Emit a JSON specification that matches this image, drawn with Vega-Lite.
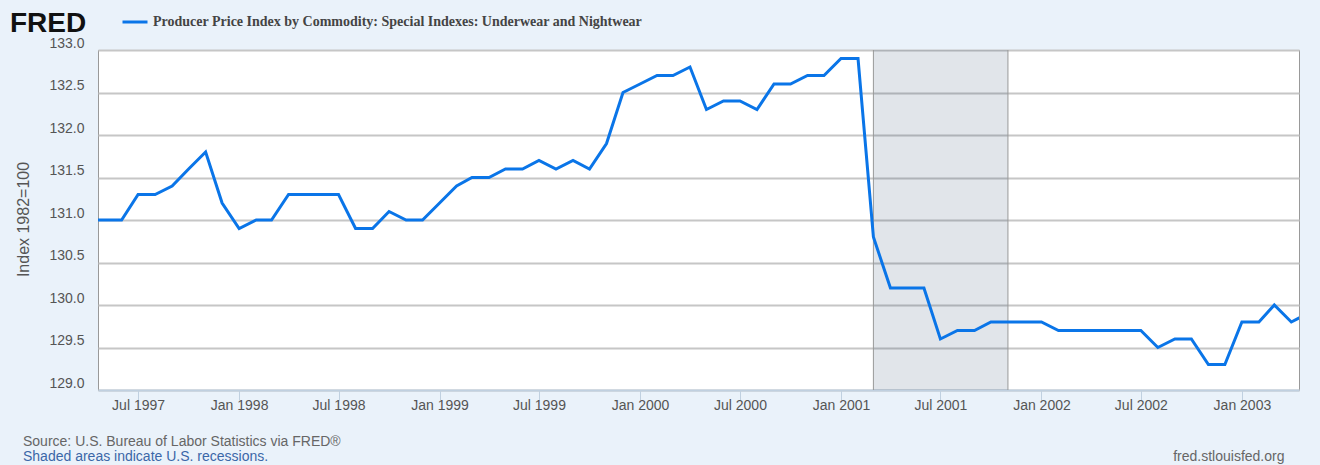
{"$schema":"https://vega.github.io/schema/vega-lite/v6.json","width":1201,"height":340,"autosize":{"type":"none"},"padding":{"left":98,"top":50,"right":21,"bottom":75},"background":"#eaf2fa","view":{"fill":"#ffffff","stroke":"#999999","strokeWidth":1},"title":{"text":"Source: U.S. Bureau of Labor Statistics via FRED®","subtitle":"Shaded areas indicate U.S. recessions.","orient":"bottom","anchor":"start","frame":"group","dx":-75,"offset":-28,"font":"Liberation Sans","fontSize":14,"fontWeight":"normal","color":"#666666","subtitleFont":"Liberation Sans","subtitleFontSize":14,"subtitleColor":"#3b67a8","subtitlePadding":1},"datasets":{"recession":[{"start":"2001-03-01","end":"2001-11-01"}],"series":[{"date":"1997-04-01","value":131.0},{"date":"1997-05-01","value":131.0},{"date":"1997-06-01","value":131.0},{"date":"1997-07-01","value":131.3},{"date":"1997-08-01","value":131.3},{"date":"1997-09-01","value":131.4},{"date":"1997-10-01","value":131.6},{"date":"1997-11-01","value":131.8},{"date":"1997-12-01","value":131.2},{"date":"1998-01-01","value":130.9},{"date":"1998-02-01","value":131.0},{"date":"1998-03-01","value":131.0},{"date":"1998-04-01","value":131.3},{"date":"1998-05-01","value":131.3},{"date":"1998-06-01","value":131.3},{"date":"1998-07-01","value":131.3},{"date":"1998-08-01","value":130.9},{"date":"1998-09-01","value":130.9},{"date":"1998-10-01","value":131.1},{"date":"1998-11-01","value":131.0},{"date":"1998-12-01","value":131.0},{"date":"1999-01-01","value":131.2},{"date":"1999-02-01","value":131.4},{"date":"1999-03-01","value":131.5},{"date":"1999-04-01","value":131.5},{"date":"1999-05-01","value":131.6},{"date":"1999-06-01","value":131.6},{"date":"1999-07-01","value":131.7},{"date":"1999-08-01","value":131.6},{"date":"1999-09-01","value":131.7},{"date":"1999-10-01","value":131.6},{"date":"1999-11-01","value":131.9},{"date":"1999-12-01","value":132.5},{"date":"2000-01-01","value":132.6},{"date":"2000-02-01","value":132.7},{"date":"2000-03-01","value":132.7},{"date":"2000-04-01","value":132.8},{"date":"2000-05-01","value":132.3},{"date":"2000-06-01","value":132.4},{"date":"2000-07-01","value":132.4},{"date":"2000-08-01","value":132.3},{"date":"2000-09-01","value":132.6},{"date":"2000-10-01","value":132.6},{"date":"2000-11-01","value":132.7},{"date":"2000-12-01","value":132.7},{"date":"2001-01-01","value":132.9},{"date":"2001-02-01","value":132.9},{"date":"2001-03-01","value":130.8},{"date":"2001-04-01","value":130.2},{"date":"2001-05-01","value":130.2},{"date":"2001-06-01","value":130.2},{"date":"2001-07-01","value":129.6},{"date":"2001-08-01","value":129.7},{"date":"2001-09-01","value":129.7},{"date":"2001-10-01","value":129.8},{"date":"2001-11-01","value":129.8},{"date":"2001-12-01","value":129.8},{"date":"2002-01-01","value":129.8},{"date":"2002-02-01","value":129.7},{"date":"2002-03-01","value":129.7},{"date":"2002-04-01","value":129.7},{"date":"2002-05-01","value":129.7},{"date":"2002-06-01","value":129.7},{"date":"2002-07-01","value":129.7},{"date":"2002-08-01","value":129.5},{"date":"2002-09-01","value":129.6},{"date":"2002-10-01","value":129.6},{"date":"2002-11-01","value":129.3},{"date":"2002-12-01","value":129.3},{"date":"2003-01-01","value":129.8},{"date":"2003-02-01","value":129.8},{"date":"2003-03-01","value":130.0},{"date":"2003-04-01","value":129.8},{"date":"2003-05-01","value":129.9}]},"layer":[{"data":{"name":"recession"},"mark":{"type":"rect","color":"#05264f","opacity":0.12},"encoding":{"x":{"field":"start","type":"temporal"},"x2":{"field":"end"}}},{"data":{"name":"recession"},"mark":{"type":"rule","color":"#999999","strokeWidth":1},"encoding":{"x":{"field":"start","type":"temporal"}}},{"data":{"name":"recession"},"mark":{"type":"rule","color":"#999999","strokeWidth":1},"encoding":{"x":{"field":"end","type":"temporal"}}},{"data":{"name":"series"},"transform":[{"calculate":"'Producer Price Index by Commodity: Special Indexes: Underwear and Nightwear'","as":"series"}],"mark":{"type":"line","clip":true,"strokeWidth":3,"strokeJoin":"miter","interpolate":"linear"},"encoding":{"x":{"field":"date","type":"temporal","title":"fred.stlouisfed.org","scale":{"type":"utc","domain":[{"year":1997,"month":4,"date":19,"utc":true},{"year":2003,"month":4,"date":15,"utc":true}]},"axis":{"tickCount":{"interval":"month","step":6},"format":"%b %Y","grid":false,"domainColor":"#c0d0e0","domainWidth":2,"tickColor":"#c0d0e0","tickSize":10,"tickWidth":1,"labelFont":"Liberation Sans","labelFontSize":14,"labelColor":"#555555","labelPadding":-2,"labelFlush":false,"labelOverlap":false,"titleFont":"Liberation Sans","titleFontSize":14,"titleFontWeight":"normal","titleColor":"#666666","titleAnchor":"end","titleAlign":"right","titleBaseline":"alphabetic","titleX":1186,"titleY":70}},"y":{"field":"value","type":"quantitative","title":"Index 1982=100","scale":{"domain":[129,133],"nice":false,"zero":false},"axis":{"values":[129,129.5,130,130.5,131,131.5,132,132.5,133],"format":".1f","grid":true,"gridColor":"#c6c6c6","gridWidth":2,"domain":false,"ticks":false,"labelFont":"Liberation Sans","labelFontSize":14,"labelColor":"#555555","labelPadding":14,"labelBaseline":"middle","labelOffset":-7,"titleFont":"Liberation Sans","titleFontSize":16,"titleFontWeight":"normal","titleColor":"#555555","titleX":-67,"titleY":169}},"color":{"field":"series","type":"nominal","scale":{"range":["#0a75e8"]},"legend":{"orient":"none","legendX":-88,"legendY":-42,"title":"FRED","titleOrient":"left","titleFont":"Liberation Sans","titleFontSize":28,"titleFontWeight":"bold","titleColor":"#111111","titlePadding":34,"titleBaseline":"line-top","titleLineHeight":9,"symbolType":"stroke","symbolStrokeWidth":3,"symbolSize":625,"labelFont":"Liberation Serif","labelFontSize":14,"labelFontWeight":"bold","labelColor":"#444444","labelOffset":4,"labelLimit":700}}}}]}
